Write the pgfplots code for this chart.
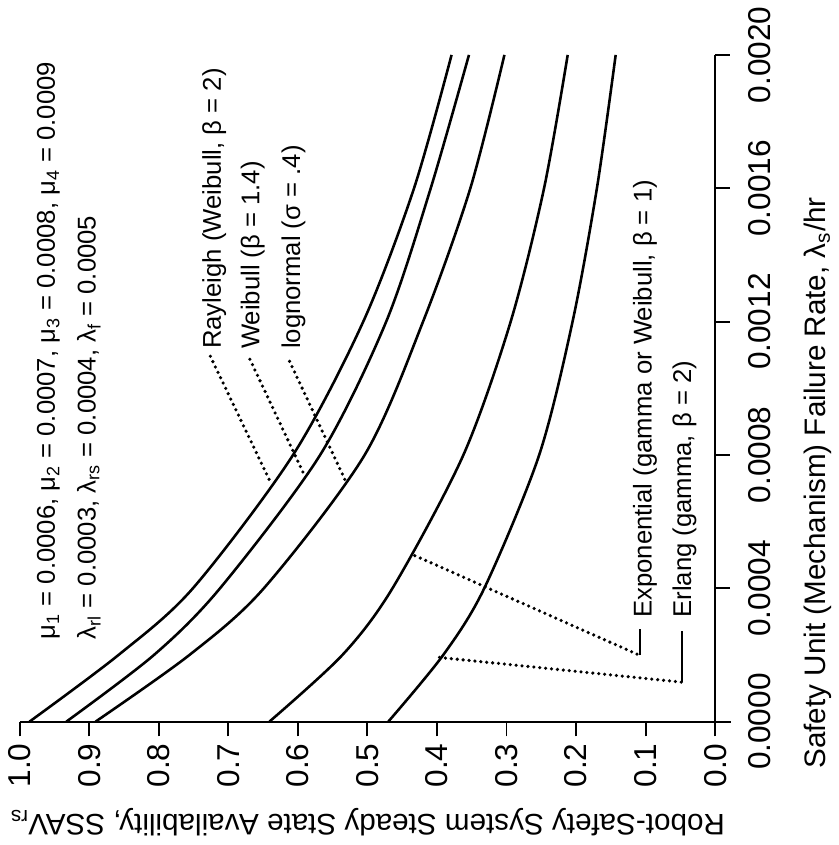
\documentclass[border=0pt]{standalone}
\usepackage{fontspec}
\setmainfont{Liberation Sans}
\usepackage{pgfplots}
\pgfplotsset{compat=1.18}

\begin{document}
\begin{tikzpicture}
\begin{axis}[
    scale only axis, width=352pt, height=337.5pt,
    xmin=0, xmax=1, x dir=reverse,
    ymin=0, ymax=0.002,
    axis x line=bottom, axis y line=right,
    axis line style={-, line width=1pt},
    tick align=outside, major tick length=7.5pt,
    tick style={line width=1pt, black},
    xtick={0,0.1,0.2,0.3,0.4,0.5,0.6,0.7,0.8,0.9,1.0},
    ytick={0,0.0004,0.0008,0.0012,0.0016,0.002},
    scaled ticks=false,
    /pgf/number format/assume math mode=true,
    xticklabel style={rotate=90, anchor=east, font=\fontsize{16}{19}\selectfont,
        /pgf/number format/.cd, fixed, fixed zerofill, precision=1},
    yticklabel shift=6pt,
    yticklabel style={rotate=90, anchor=north, font=\fontsize{16}{19}\selectfont,
        /pgf/number format/.cd, fixed, fixed zerofill, precision=4},
    xlabel={Robot-Safety System Steady State Availability, SSAV\textsubscript{rs}},
    ylabel={Safety Unit (Mechanism) Failure Rate, λ\textsubscript{s}/hr},
    every axis x label/.style={at={(rel axis cs:0.5,0)}, yshift=-51pt, rotate=180,
        anchor=center, font=\fontsize{15}{18}\selectfont},
    every axis y label/.style={at={(rel axis cs:1,0.358)}, xshift=52pt, rotate=90,
        anchor=center, font=\fontsize{15}{18}\selectfont},
    clip=false,
]
% availability (x) against failure rate (y); picture is turned a quarter turn
% Rayleigh (Weibull, beta = 2)
\addplot[black, line width=1.3pt, smooth] coordinates {
    (0.986,0) (0.858,0.0002) (0.751,0.0004) (0.607,0.0008)
    (0.506,0.0012) (0.433,0.0016) (0.379,0.0020)
};
% Weibull (beta = 1.4)
\addplot[black, line width=1.3pt, smooth] coordinates {
    (0.933,0) (0.807,0.0002) (0.712,0.0004) (0.568,0.0008)
    (0.473,0.0012) (0.409,0.0016) (0.354,0.0020)
};
% lognormal (sigma = .4)
\addplot[black, line width=1.3pt, smooth] coordinates {
    (0.891,0) (0.756,0.0002) (0.649,0.0004) (0.504,0.0008)
    (0.420,0.0012) (0.352,0.0016) (0.303,0.0020)
};
% Exponential
\addplot[black, line width=1.3pt, smooth] coordinates {
    (0.641,0) (0.536,0.0002) (0.464,0.0004) (0.362,0.0008)
    (0.294,0.0012) (0.246,0.0016) (0.212,0.0020)
};
% Erlang
\addplot[black, line width=1.3pt, smooth] coordinates {
    (0.470,0) (0.391,0.0002) (0.332,0.0004) (0.253,0.0008)
    (0.205,0.0012) (0.170,0.0016) (0.143,0.0020)
};

\draw[line width=1pt] (axis cs:0,0) -- ++(8pt,0);

\tikzset{ann/.style={rotate=90, anchor=west, inner sep=0pt, font=\fontsize{13}{15.6}\selectfont},
         lead/.style={line width=1.8pt, line cap=round, dash pattern=on 0pt off 3pt}}
\node[ann] at (axis cs:0.9588,0.000246)
    {μ\textsubscript{1} = 0.0006, μ\textsubscript{2} = 0.0007, μ\textsubscript{3} = 0.0008, μ\textsubscript{4} = 0.0009};
\node[ann] at (axis cs:0.9006,0.000246)
    {λ\textsubscript{rl} = 0.0003, λ\textsubscript{rs} = 0.0004, λ\textsubscript{f} = 0.0005};

\node[ann] at (axis cs:0.7202,0.001117) {Rayleigh (Weibull, β = 2)};
\node[ann] at (axis cs:0.6648,0.001117) {Weibull (β = 1.4)};
\node[ann] at (axis cs:0.6065,0.001117) {lognormal (σ = .4)};
\draw[lead] (axis cs:0.7259,0.001096) -- (axis cs:0.6378,0.000711);
\draw[lead] (axis cs:0.669,0.001087) -- (axis cs:0.591,0.000741);
\draw[lead] (axis cs:0.612,0.001081) -- (axis cs:0.531,0.000720);

\node[ann] at (axis cs:0.1009,0.000311) {Exponential (gamma or Weibull, β = 1)};
\node[ann] at (axis cs:0.0440,0.000311) {Erlang (gamma, β = 2)};
\draw[lead] (axis cs:0.4318,0.000498) -- (axis cs:0.1080,0.0001985);
\draw[line width=1pt] (axis cs:0.1080,0.0001985) -- (axis cs:0.1080,0.0002785);
\draw[lead] (axis cs:0.3963,0.0001926) -- (axis cs:0.0483,0.0001185);
\draw[line width=1pt] (axis cs:0.0483,0.0001185) -- (axis cs:0.0483,0.0002726);

\coordinate (TL) at (axis cs:1.0284,0.0021333);
\coordinate (BR) at (axis cs:-0.169,-0.00037);
\end{axis}
\path (TL) rectangle (BR);
\end{tikzpicture}
\end{document}
